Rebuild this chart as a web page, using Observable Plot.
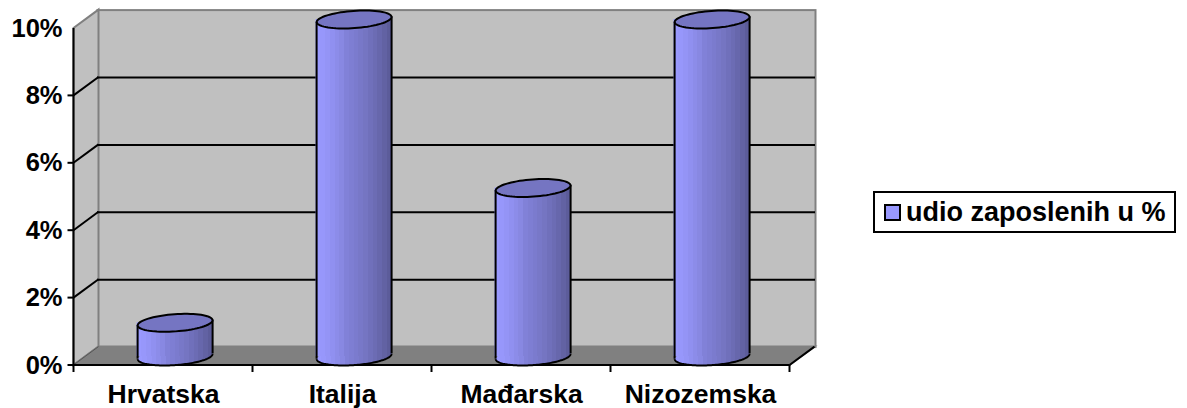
<!DOCTYPE html>
<html>
<head>
<meta charset="utf-8">
<script src="https://cdn.jsdelivr.net/npm/d3@7"></script>
<script src="https://cdn.jsdelivr.net/npm/@observablehq/plot@0.6"></script>
<style>
  html, body { margin: 0; padding: 0; background: #fff; }
  body { position: relative; width: 1187px; height: 408px; overflow: hidden; font-family: "Liberation Sans", Arial, sans-serif; }
  svg { display: block; overflow: visible; }
  #legend { position: absolute; left: 873px; top: 191px; width: 303px; height: 42px; box-sizing: border-box; border: 2px solid #000; background: #fff; }
  #legend i { position: absolute; left: 9px; top: 11px; width: 17px; height: 17px; box-sizing: border-box; border: 2px solid #000; background: #9999ff; }
  #legend span { position: absolute; left: 31px; top: 4px; font-size: 27px; line-height: 30px; font-weight: bold; white-space: nowrap; color: #000; }
</style>
</head>
<body>
<div id="chart"></div>
<div id="legend"><i></i><span>udio zaposlenih u %</span></div>
<script>
const categories = ["Hrvatska", "Italija", "Mađarska", "Nizozemska"];
const shares = [1, 10, 5, 10];
const yTicks = [0, 2, 4, 6, 8, 10];
const gridTicks = [2, 4, 6, 8];
const seriesName = "udio zaposlenih u %";

const depthX = 25, depthY = -18.4;          // 3D wall offset
const capRx = 37.5, capRy = 8.6, capTilt = 2.7; // cylinder cap shape
const shiftX = 11.6, shiftY = -9;          // cylinder placed mid-depth

const rows = categories.map((category, i) => ({category, share: shares[i]}));

const stripeColors = ["#9999ff","#9797fb","#9494f6","#9090f0","#8c8ce9","#8888e2","#8181d8","#7e7ed3","#7b7bce","#7878c8","#7575c2","#7070bb","#6c6cb4","#6767ac","#6262a3","#5c5c9a"];

// Tilted ellipse (full cap, or only its lower arc) used for the cylinder ends
const capPath = (ctx, sweep) => {
  const a = Math.atan2(capTilt, capRx), c = Math.cos(a), s = Math.sin(a);
  const n = 72;
  for (let i = 0; i <= n; ++i) {
    const t = (i / n) * sweep;
    const ex = capRx * Math.cos(t), ey = capRy * Math.sin(t);
    const px = ex * c + ey * s, py = -ex * s + ey * c;
    if (i === 0) ctx.moveTo(px, py); else ctx.lineTo(px, py);
  }
};
const capSymbol = {draw(ctx) { capPath(ctx, 2 * Math.PI); ctx.closePath(); }};
const baseArcSymbol = {draw(ctx) { capPath(ctx, Math.PI); }};

function defsMark() {
  const ns = "http://www.w3.org/2000/svg";
  const defs = document.createElementNS(ns, "defs");
  const g = document.createElementNS(ns, "linearGradient");
  g.setAttribute("id", "cyl");
  stripeColors.forEach((col, i) => {
    for (const k of [i, i + 1]) {
      const st = document.createElementNS(ns, "stop");
      st.setAttribute("offset", k / stripeColors.length);
      st.setAttribute("stop-color", col);
      g.appendChild(st);
    }
  });
  defs.appendChild(g);
  return defs;
}

// Side wall and floor: positions come from the plot's scales
function wallsMark(index, {x, y}) {
  const step = x.step ? x.step() : (x.bandwidth() / (1 - 0.577));
  const x0 = x(categories[0]) - (step - x.bandwidth()) / 2;
  const x1 = x0 + step * categories.length;
  const y0 = y(0), yTop = y(10);
  const g = d3.create("svg:g").attr("fill", "none");
  const poly = (pts, fill, stroke, w) => g.append("path")
    .attr("d", "M" + pts.map(p => p.join(",")).join("L") + "Z")
    .attr("fill", fill).attr("stroke", stroke).attr("stroke-width", w);
  poly([[x0, y0], [x0, yTop], [x0 + depthX, yTop + depthY], [x0 + depthX, y0 + depthY]], "#c0c0c0", "#808080", 2);
  poly([[x0, y0], [x0 + depthX, y0 + depthY], [x1 + depthX, y0 + depthY], [x1, y0]], "#808080", "#808080", 2);
  const line = (a, b, c, d, stroke = "#000", w = 2) => g.append("line")
    .attr("x1", a).attr("y1", b).attr("x2", c).attr("y2", d)
    .attr("stroke", stroke).attr("stroke-width", w);
  for (const t of gridTicks) line(x0, y(t), x0 + depthX, y(t) + depthY);
  line(x1, y0, x1 + depthX, y0 + depthY);
  line(x0, y0, x0 + depthX, y0 + depthY, "#555", 1);
  // axis lines and tick marks
  line(x0, yTop, x0, y0);
  line(x0, y0, x1, y0);
  for (const t of yTicks) if (t < 10) line(x0 - 6, y(t), x0, y(t));
  for (let i = 0; i <= categories.length; ++i) line(x0 + i * step, y0, x0 + i * step, y0 + 7);
  return g.node();
}

const chart = Plot.plot({
  width: 1187,
  height: 408,
  marginLeft: 72,
  marginRight: 397,
  marginTop: 28,
  marginBottom: 43,
  style: {fontFamily: "'Liberation Sans', Arial, sans-serif", background: "transparent", overflow: "visible", color: "#000"},
  x: {type: "band", domain: categories, paddingInner: 0.577, paddingOuter: 0.2885, label: null},
  y: {domain: [0, 10], label: null},
  marks: [
    defsMark,
    Plot.frame({fill: "#c0c0c0", stroke: "#808080", strokeWidth: 2, dx: depthX, dy: depthY}),
    wallsMark,
    Plot.ruleY(gridTicks, {stroke: "#000", strokeWidth: 2, dx: depthX, dy: depthY}),
    Plot.axisY({ticks: yTicks, tickSize: 0, tickPadding: 10, tickFormat: d => d + "%", fontSize: 25.5, fontWeight: "bold", label: null}),
    Plot.axisX({tickSize: 0, tickPadding: 19, fontSize: 26.5, fontWeight: "bold", label: null}),
    Plot.dot(rows, {x: "category", y: () => 0, symbol: capSymbol, fill: "url(#cyl)", stroke: "none", dx: shiftX, dy: shiftY}),
    Plot.barY(rows, {x: "category", y: "share", fill: "url(#cyl)", dx: shiftX, dy: shiftY}),
    Plot.dot(rows, {x: "category", y: () => 0, symbol: baseArcSymbol, fill: "none", stroke: "#000", strokeWidth: 2, dx: shiftX, dy: shiftY}),
    Plot.ruleX(rows, {x: "category", y1: () => 0, y2: "share", stroke: "#000", strokeWidth: 2, dx: shiftX - capRx, dy: shiftY + capTilt}),
    Plot.ruleX(rows, {x: "category", y1: () => 0, y2: "share", stroke: "#000", strokeWidth: 2, dx: shiftX + capRx, dy: shiftY - capTilt}),
    Plot.dot(rows, {x: "category", y: "share", symbol: capSymbol, fill: "#7575c2", stroke: "#000", strokeWidth: 2, dx: shiftX, dy: shiftY, title: d => `${d.category}: ${d.share}% (${seriesName})`})
  ]
});
document.getElementById("chart").appendChild(chart);
</script>
</body>
</html>
